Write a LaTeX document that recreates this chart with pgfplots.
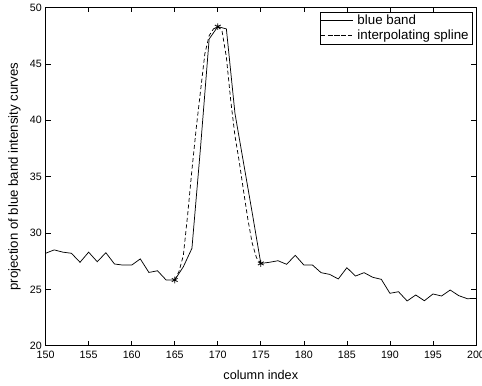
\documentclass[border=0pt]{standalone}
\usepackage{pgfplots}
\pgfplotsset{compat=1.18}
\usepackage{fontspec}
\setmainfont{Liberation Sans}
\begin{document}
\fontsize{8pt}{9.6pt}\selectfont
\begin{tikzpicture}
\begin{axis}[
  scale only axis,
  width=322.8pt, height=253.7pt,
  xmin=150, xmax=200, ymin=20, ymax=50,
  xtick={150,155,...,200}, ytick={20,25,...,50},
  /pgf/number format/assume math mode=true,
  tick label style={font=\fontsize{8pt}{9.6pt}\selectfont},
  xticklabel style={yshift=-1pt},
  major tick length=3.75pt,
  tick style={black, line width=0.5pt},
  axis line style={line width=0.6pt},
  xlabel={column index},
  ylabel={projection of blue band intensity curves},
  xlabel style={font=\fontsize{9.5pt}{11pt}\selectfont, yshift=-3.5pt},
  ylabel style={font=\fontsize{9.9pt}{12pt}\selectfont, yshift=1.5pt},
  legend style={at={(rel axis cs:0.993,0.987)}, anchor=north east,
    draw=black, line width=0.5pt, font=\fontsize{10pt}{11pt}\selectfont,
    inner xsep=0pt, inner ysep=0.5pt, row sep=0pt, cells={anchor=west},
    nodes={inner xsep=3pt, inner ysep=1.5pt}},
  legend image code/.code={\path (0pt,0pt) -- (24pt,0pt);\draw[#1] (6pt,0pt) -- (22pt,0pt);},
  legend cell align=left,
]
\addplot[black, line width=0.55pt] coordinates {
(150,28.2)(151,28.5)(152,28.3)(153,28.2)(154,27.4)(155,28.3)(156,27.45)(157,28.25)
(158,27.25)(159,27.15)(160,27.15)(161,27.7)(162,26.5)(163,26.65)(164,25.83)(165,25.83)
(166,27.0)(167,28.64)(168,37.6)(169,47.2)(170,48.3)(171,48.1)(172,40.6)(173,36.2)
(174,31.8)(175,27.3)(176,27.4)(177,27.54)(178,27.22)(179,28.02)(180,27.16)(181,27.16)
(182,26.48)(183,26.33)(184,25.92)(185,26.92)(186,26.18)(187,26.48)(188,26.07)(189,25.89)
(190,24.65)(191,24.79)(192,23.97)(193,24.50)(194,23.99)(195,24.59)(196,24.41)(197,24.94)
(198,24.44)(199,24.17)(200,24.2)};
\addlegendentry{blue band}
\addplot[black, line width=0.55pt, dash pattern=on 3pt off 2pt] coordinates {
(165,25.83)(165.5,26.6)(166,28.0)(166.5,31.6)(167,35.6)(167.5,39.3)(168,42.6)
(168.5,45.9)(169,47.5)(169.5,48.1)(170,48.3)(170.5,47.9)(171,45.6)(171.5,41.8)
(172,38.6)(172.5,36.3)(173,33.7)(173.5,31.2)(174,29.1)(174.5,27.8)(175,27.3)};
\addlegendentry{interpolating spline}
\addplot[black, only marks, mark=asterisk, mark size=2.5pt, mark options={line width=0.6pt}, forget plot]
 coordinates {(165,25.83)(170,48.3)(175,27.3)};
\end{axis}
\pgfresetboundingbox
\path ([xshift=-34.2pt,yshift=-29.5pt]current axis.south west) rectangle ([xshift=4.5pt,yshift=5.6pt]current axis.north east);
\end{tikzpicture}
\end{document}
